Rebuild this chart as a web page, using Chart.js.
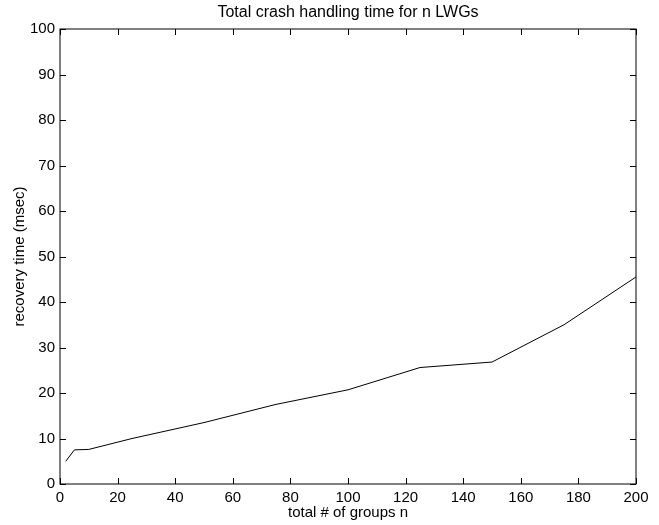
<!DOCTYPE html>
<html>
<head>
<meta charset="utf-8">
<script src="https://cdn.jsdelivr.net/npm/chart.js@4/dist/chart.umd.min.js"></script>
<style>
  html, body { margin: 0; padding: 0; background: #fff; }
  canvas { display: block; }
</style>
</head>
<body>
<canvas id="crashChart" width="659" height="525"></canvas>
<script>
// group counts and recovery times (msec)
const groups = [2, 5, 10, 25, 50, 75, 100, 125, 150, 175, 200];
const recovery = [5.0, 7.5, 7.6, 10.0, 13.5, 17.5, 20.7, 25.6, 26.8, 35.0, 45.5];
const xTicks = [0, 20, 40, 60, 80, 100, 120, 140, 160, 180, 200];
const yTicks = [0, 10, 20, 30, 40, 50, 60, 70, 80, 90, 100];

const FONT = 'Liberation Sans, Arial, Helvetica, sans-serif';

// box + inward ticks on all four sides, matlab style
const boxPlugin = {
  id: 'box',
  afterDraw(chart) {
    const { ctx, chartArea: a, scales } = chart;
    const len = 6;
    ctx.save();
    ctx.strokeStyle = '#000';
    ctx.lineWidth = 1;
    ctx.strokeRect(a.left, a.top, a.right - a.left, a.bottom - a.top);
    ctx.beginPath();
    xTicks.forEach(v => {
      const x = Math.round(scales.x.getPixelForValue(v)) + 0.5;
      ctx.moveTo(x, a.bottom); ctx.lineTo(x, a.bottom - len);
      ctx.moveTo(x, a.top); ctx.lineTo(x, a.top + len);
    });
    yTicks.forEach(v => {
      const y = Math.round(scales.y.getPixelForValue(v)) + 0.5;
      ctx.moveTo(a.left, y); ctx.lineTo(a.left + len, y);
      ctx.moveTo(a.right, y); ctx.lineTo(a.right - len, y);
    });
    ctx.stroke();
    ctx.restore();
  }
};

const ctx = document.getElementById('crashChart').getContext('2d');

new Chart(ctx, {
  type: 'line',
  data: {
    datasets: [{
      data: groups.map((g, i) => ({ x: g, y: recovery[i] })),
      borderColor: '#000',
      borderWidth: 1,
      pointRadius: 0,
      tension: 0,
      fill: false
    }]
  },
  options: {
    responsive: false,
    animation: false,
    layout: { padding: { left: 0, right: 23, top: 0, bottom: 0 } },
    plugins: {
      legend: { display: false },
      tooltip: { enabled: false },
      title: {
        display: true,
        fullSize: false, // centre over the plot box, not the whole canvas
        text: 'Total crash handling time for n LWGs',
        color: '#000',
        font: { family: FONT, size: 16, weight: 'normal' },
        padding: { top: 3, bottom: 6.8 }
      }
    },
    scales: {
      x: {
        type: 'linear',
        min: 0,
        max: 200,
        afterBuildTicks: s => { s.ticks = xTicks.map(v => ({ value: v })); },
        afterFit: s => { s.height = 41; },
        grid: { display: false, drawTicks: false },
        border: { display: false },
        ticks: { color: '#000', padding: 5, maxRotation: 0, font: { family: FONT, size: 15 } },
        title: {
          display: true,
          text: 'total # of groups n',
          color: '#000',
          font: { family: FONT, size: 15 },
          padding: { top: 0, bottom: 3 }
        }
      },
      y: {
        type: 'linear',
        min: 0,
        max: 100,
        afterBuildTicks: s => { s.ticks = yTicks.map(v => ({ value: v })); },
        afterFit: s => { s.width = 60; },
        grid: { display: false, drawTicks: false },
        border: { display: false },
        ticks: { color: '#000', padding: 5, font: { family: FONT, size: 15 } },
        title: {
          display: true,
          text: 'recovery time (msec)',
          color: '#000',
          font: { family: FONT, size: 15 },
          padding: { top: 11, bottom: 0 }
        }
      }
    }
  },
  plugins: [boxPlugin]
});
</script>
</body>
</html>
